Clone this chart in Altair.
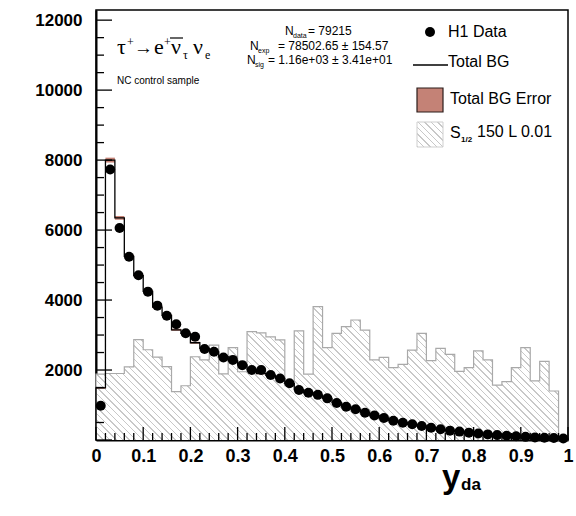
import altair as alt
import pandas as pd

# y_da histogram: 50 bins of width 0.02 between 0 and 1
EDGES = [round(0.02 * i, 2) for i in range(51)]

DATA = [980, 7730, 6060, 5240, 4710, 4240, 3840, 3550, 3310, 3050,
        2950, 2600, 2520, 2360, 2290, 2140, 2000, 2000, 1860, 1760,
        1620, 1430, 1350, 1290, 1190, 1060, 950, 880, 780, 700,
        630, 550, 495, 450, 400, 350, 305, 267, 240, 210,
        185, 160, 140, 120, 105, 90, 75, 65, 55, 45]

TOTAL_BG = [1490, 8000, 6350, 5250, 4700, 4250, 3800, 3560, 3150, 3050,
            2780, 2620, 2520, 2380, 2270, 2150, 2010, 1900, 1850, 1760,
            1610, 1440, 1350, 1280, 1190, 1070, 950, 880, 790, 700,
            625, 555, 495, 445, 400, 355, 305, 270, 240, 210,
            185, 160, 140, 120, 105, 90, 78, 65, 55, 45]

TOTAL_BG_ERR = [25, 70, 55, 45, 40, 38, 35, 33, 30, 30,
                28, 26, 25, 24, 23, 22, 21, 20, 20, 19,
                18, 17, 17, 16, 16, 15, 14, 14, 13, 12,
                12, 11, 11, 10, 10, 9, 9, 8, 8, 8,
                7, 7, 6, 6, 6, 5, 5, 5, 4, 4]

SIGNAL = [1880, 1900, 1900, 2090, 2870, 2580, 2370, 2100, 1380, 1550,
          2380, 2290, 2710, 1890, 2640, 1950, 3100, 3060, 2950, 2860,
          1550, 3120, 1880, 3810, 2640, 3050, 3240, 3430, 3140, 2290,
          2360, 2070, 2160, 2570, 3050, 2270, 2620, 2450, 1960, 2070,
          2550, 2290, 1570, 1670, 2070, 2640, 1690, 2250, 1400, 0]

Y_MAX = 12290
W, H = 472, 430

XS = alt.Scale(domain=[0, 1], nice=False, zero=False)
YS = alt.Scale(domain=[0, Y_MAX], nice=False)

X_AXIS = alt.Axis(values=[round(0.1 * i, 1) for i in range(11)], format=".1~f",
                  ticks=False, tickSize=0, labelPadding=7, labelFlush=False,
                  labelOverlap=False, grid=False, domainWidth=2, domainColor="black",
                  labelFont="Liberation Sans", labelFontWeight="bold",
                  labelFontSize=18, labelColor="black")
Y_AXIS = alt.Axis(values=[2000, 4000, 6000, 8000, 10000, 12000], format="d",
                  ticks=False, tickSize=0, labelPadding=14, grid=False,
                  domainWidth=2, domainColor="black",
                  labelFont="Liberation Sans", labelFontWeight="bold",
                  labelFontSize=17, labelColor="black")


def X(field):
    return alt.X(f"{field}:Q", scale=XS, axis=X_AXIS, title=None)


def Y(field):
    return alt.Y(f"{field}:Q", scale=YS, axis=Y_AXIS, title=None)


def hatch(ratio, n, line="#c8c8c8", bg="white", frac=0.22):
    """Diagonal '\\' hatching as a hard-stop linear gradient over the mark's box."""
    a = (1 + ratio) / (1 + ratio * ratio)
    stops = []
    for k in range(n):
        o0, o1, o2 = k / n, (k + frac) / n, (k + 1) / n
        stops += [alt.GradientStop(offset=o0, color=line),
                  alt.GradientStop(offset=o1, color=line),
                  alt.GradientStop(offset=o1, color=bg),
                  alt.GradientStop(offset=o2, color=bg)]
    return alt.LinearGradient(gradient="linear", stops=stops,
                              x1=0, y1=1, x2=a, y2=1 - a * ratio)


n = len(DATA)
centers = [round((EDGES[i] + EDGES[i + 1]) / 2, 3) for i in range(n)]

# signal histogram (hatched area + grey outline)
sig_area_df = pd.DataFrame({"x": EDGES, "y": SIGNAL + [0]})
sig_px = max(SIGNAL) / Y_MAX * H
sig_area = alt.Chart(sig_area_df).mark_area(
    interpolate="step-after", fill=hatch(sig_px / W, 92)
).encode(x=X("x"), y=Y("y"))

sig_line_df = pd.DataFrame({
    "x": [0.0] + EDGES,
    "y": [0] + SIGNAL + [SIGNAL[-1]],
    "i": list(range(n + 2)),
})
sig_line = alt.Chart(sig_line_df).mark_line(
    interpolate="step-after", color="#a9a9a9", strokeWidth=1.2
).encode(x=X("x"), y=Y("y"), order="i:Q")

# total background uncertainty band
err_df = pd.DataFrame({
    "x": EDGES[:-1], "x2": EDGES[1:],
    "lo": [b - e for b, e in zip(TOTAL_BG, TOTAL_BG_ERR)],
    "hi": [b + e for b, e in zip(TOTAL_BG, TOTAL_BG_ERR)],
})
err_band = alt.Chart(err_df).mark_rect(color="#c48276").encode(
    x=X("x"), x2="x2:Q", y=Y("lo"), y2="hi:Q")

# total background step line
bg_df = pd.DataFrame({
    "x": [0.0] + EDGES + [1.0],
    "y": [0] + TOTAL_BG + [TOTAL_BG[-1], 0],
    "i": list(range(n + 3)),
})
bg_line = alt.Chart(bg_df).mark_line(
    interpolate="step-after", color="black", strokeWidth=1.3
).encode(x=X("x"), y=Y("y"), order="i:Q")

# data points
pts_df = pd.DataFrame({"x": centers, "y": DATA})
points = alt.Chart(pts_df).mark_circle(size=100, color="black", opacity=1).encode(
    x=X("x"), y=Y("y"))

# inward tick marks
y_major = pd.DataFrame({"v": [2000 * i for i in range(7)]})
y_minor = pd.DataFrame({"v": [500 * i for i in range(25) if i % 4]})
x_major = pd.DataFrame({"v": [round(0.1 * i, 1) for i in range(11)]})
x_minor = pd.DataFrame({"v": [round(0.02 * i, 2) for i in range(51) if i % 5]})

ticks = [
    alt.Chart(y_major).mark_rule(color="black", strokeWidth=1.3).encode(
        y=Y("v"), x=alt.value(0), x2=alt.value(16)),
    alt.Chart(y_minor).mark_rule(color="black", strokeWidth=1.3).encode(
        y=Y("v"), x=alt.value(0), x2=alt.value(8)),
    alt.Chart(x_major).mark_rule(color="black", strokeWidth=1.3).encode(
        x=X("v"), y=alt.value(H), y2=alt.value(H - 13)),
    alt.Chart(x_minor).mark_rule(color="black", strokeWidth=1.3).encode(
        x=X("v"), y=alt.value(H), y2=alt.value(H - 7)),
]

ONE = alt.Data(values=[{"k": 1}])


def txt(s, x, y, size, font="Liberation Sans", weight="normal", align="left",
        baseline="alphabetic", color="black"):
    return alt.Chart(ONE).mark_text(
        text=s, font=font, fontSize=size, fontWeight=weight, align=align,
        baseline=baseline, color=color
    ).encode(x=alt.value(x), y=alt.value(y))


serif = "Liberation Serif"
formula = [
    txt("τ", 21, 44, 22, serif),
    txt("+", 31, 36, 12, serif),
    txt("→", 38, 44, 19, serif),
    txt("e", 58, 44, 22, serif),
    txt("+", 68, 36, 12, serif),
    txt("ν", 75, 44, 22, serif),
    alt.Chart(ONE).mark_rule(color="black", strokeWidth=1.2).encode(
        x=alt.value(74), x2=alt.value(87), y=alt.value(28)),
    txt("τ", 87, 49, 12, serif),
    txt("ν", 97, 44, 22, serif),
    txt("e", 109, 49, 12, serif),
    txt("NC control sample", 21, 74, 10),
]

stats = [
    txt("N", 189, 25, 12), txt("data", 197, 28, 7), txt("= 79215", 212, 25, 12),
    txt("N", 154, 40, 12), txt("exp", 162, 43, 7),
    txt("= 78502.65 ± 154.57", 182, 40, 12),
    txt("N", 151, 54, 12), txt("sig", 159, 57, 7),
    txt("= 1.16e+03 ± 3.41e+01", 172, 54, 12),
]

legend = [
    alt.Chart(ONE).mark_circle(size=100, color="black", opacity=1).encode(
        x=alt.value(334), y=alt.value(22)),
    txt("H1 Data", 352, 22, 16, baseline="middle"),
    alt.Chart(ONE).mark_rule(color="black", strokeWidth=1.3).encode(
        x=alt.value(317), x2=alt.value(352), y=alt.value(55)),
    txt("Total BG", 352, 52, 16, baseline="middle"),
    alt.Chart(ONE).mark_rect(fill="#c48276", stroke="#2b1d1b", strokeWidth=1.2).encode(
        x=alt.value(321), x2=alt.value(347), y=alt.value(78), y2=alt.value(102)),
    txt("Total BG Error", 354, 89, 16, baseline="middle"),
    alt.Chart(ONE).mark_rect(fill=hatch(25 / 26, 8), stroke="#cfcfcf", strokeWidth=1).encode(
        x=alt.value(321), x2=alt.value(347), y=alt.value(112), y2=alt.value(137)),
    txt("S", 354, 123, 16, baseline="middle"),
    txt("1/2", 365, 130, 8, weight="bold", baseline="middle"),
    txt("150 L 0.01", 381, 122, 16, baseline="middle"),
]

axis_title = [
    txt("y", 346, 478, 33, weight="bold"),
    txt("da", 365, 480, 17, weight="bold"),
]

chart = alt.layer(
    sig_area, sig_line, err_band, bg_line, *ticks, points,
    *formula, *stats, *legend, *axis_title
).properties(
    width=W, height=H,
    autosize=alt.AutoSizeParams(type="none"),
    padding={"left": 96, "top": 10, "right": 8, "bottom": 76},
    background="white",
).configure_view(stroke="black", strokeWidth=1.5)

chart.save("out.html", embed_options={"renderer": "svg", "actions": False})
